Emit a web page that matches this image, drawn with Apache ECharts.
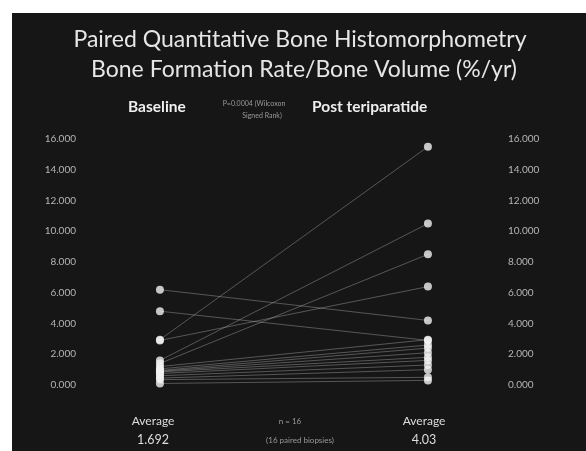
<!DOCTYPE html>
<html>
<head>
<meta charset="utf-8">
<script src="https://cdn.jsdelivr.net/npm/echarts@6/dist/echarts.min.js"></script>
<style>
html,body{margin:0;padding:0;background:#fff;}
#c{width:586px;height:451px;}
</style>
</head>
<body>
<div id="c"></div>
<script>
// Data (BFR/BV %/yr), paired biopsies
var groups = ['Baseline', 'Post teriparatide'];
var baseline = [6.2, 4.8, 2.95, 2.9, 1.6, 1.4, 1.2, 1.05, 0.95, 0.9, 0.85, 0.75, 0.6, 0.45, 0.35, 0.1];
var post     = [4.2, 2.9, 15.5, 6.4, 10.5, 8.5, 2.95, 2.6, 2.4, 2.1, 1.8, 1.6, 1.3, 1.0, 0.5, 0.3];
var yTicks = [0, 2, 4, 6, 8, 10, 12, 14, 16];
var averages = ['1.692', '4.03'];

var chart = echarts.init(document.getElementById('c'), null, {renderer: 'canvas'});
var FONT = 'Lato, "Open Sans", sans-serif';
var series = [];
baseline.forEach(function (b, i) {
  series.push({
    type: 'line', data: [[0, b], [1, post[i]]], symbol: 'none',
    lineStyle: {color: '#cfcfcf', width: 1, opacity: 0.35}, silent: true, z: 2
  });
});
var pts = [];
baseline.forEach(function (b) { pts.push([0, b]); });
post.forEach(function (p) { pts.push([1, p]); });
series.push({
  type: 'scatter', data: pts, symbol: 'circle', symbolSize: 8,
  itemStyle: {color: '#f2f2f2'}, z: 5
});

function txt(x, y, s, font, fill, align) {
  return {type: 'text', x: x, y: y, style: {text: s, fill: fill, font: font, textAlign: align || 'left', textVerticalAlign: 'middle'}};
}

chart.setOption({
  backgroundColor: '#ffffff',
  animation: false,
  graphic: [
    {type: 'rect', shape: {x: 12, y: 13, width: 574, height: 438}, style: {fill: '#161616'}, z: -10},
    txt(300, 40, 'Paired Quantitative Bone Histomorphometry', '23px ' + FONT, '#e6e6e6', 'center'),
    txt(304, 70, 'Bone Formation Rate/Bone Volume (%/yr)', '23px ' + FONT, '#e6e6e6', 'center'),
    txt(128, 107, groups[0], 'bold 15.5px ' + FONT, '#eeeeee'),
    txt(312, 107, groups[1], 'bold 15.5px ' + FONT, '#eeeeee'),
    txt(254, 104, 'P=0.0004 (Wilcoxon', '7px ' + FONT, '#9a9a9a', 'center'),
    txt(262, 116, 'Signed Rank)', '7px ' + FONT, '#9a9a9a', 'center'),
    txt(153, 421, 'Average', '12px ' + FONT, '#dddddd', 'center'),
    txt(153, 440, averages[0], '12.5px ' + FONT, '#dddddd', 'center'),
    txt(424, 421, 'Average', '12px ' + FONT, '#dddddd', 'center'),
    txt(424, 440, averages[1], '12.5px ' + FONT, '#dddddd', 'center'),
    txt(290, 421, 'n = 16', '8px ' + FONT, '#9a9a9a', 'center'),
    txt(300, 440, '(16 paired biopsies)', '8px ' + FONT, '#9a9a9a', 'center')
  ],
  grid: {left: 90, right: 90, top: 139, bottom: 66},
  xAxis: {type: 'value', min: -0.261, max: 1.254, show: false},
  yAxis: [
    {type: 'value', min: 0, max: 16, interval: 2, position: 'left',
     axisLine: {show: false}, axisTick: {show: false}, splitLine: {show: false},
     axisLabel: {color: '#b5b5b5', fontSize: 10, fontFamily: FONT, margin: 14, formatter: function (v) { return v.toFixed(3); }}},
    {type: 'value', min: 0, max: 16, interval: 2, position: 'right',
     axisLine: {show: false}, axisTick: {show: false}, splitLine: {show: false},
     axisLabel: {color: '#b5b5b5', fontSize: 10, fontFamily: FONT, margin: 12, formatter: function (v) { return v.toFixed(3); }}}
  ],
  series: series
});
</script>
</body>
</html>
